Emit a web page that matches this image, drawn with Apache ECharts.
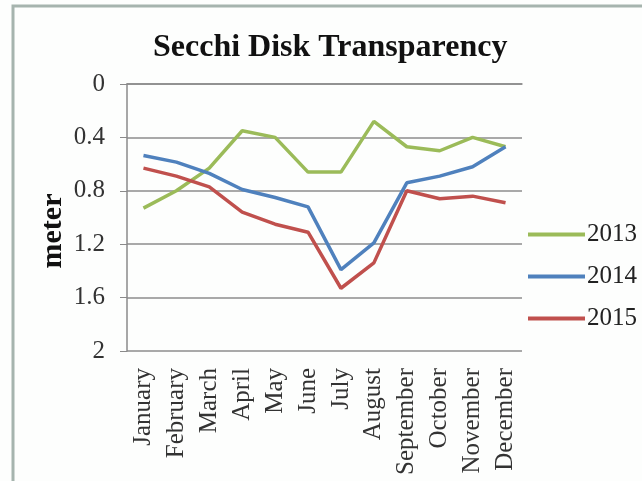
<!DOCTYPE html>
<html>
<head>
<meta charset="utf-8">
<script src="https://cdn.jsdelivr.net/npm/echarts@6/dist/echarts.min.js"></script>
<style>
html,body{margin:0;padding:0;background:#fdfefd;}
#c{width:642px;height:481px;}
</style>
</head>
<body>
<div id="c"></div>
<script>
var months = ['January','February','March','April','May','June','July','August','September','October','November','December'];
var yTicks = [0, 0.4, 0.8, 1.2, 1.6, 2];
var s2013 = [0.93, 0.80, 0.63, 0.35, 0.40, 0.66, 0.66, 0.28, 0.47, 0.50, 0.40, 0.47];
var s2014 = [0.535, 0.585, 0.67, 0.79, 0.85, 0.92, 1.39, 1.19, 0.74, 0.69, 0.62, 0.47];
var s2015 = [0.63, 0.69, 0.77, 0.96, 1.05, 1.11, 1.53, 1.34, 0.80, 0.86, 0.84, 0.89];
var seriesNames = ['2013','2014','2015'];
var colors = ['#9bbb59','#4f81bd','#c0504d'];

var serif = 'Liberation Serif';
var chart = echarts.init(document.getElementById('c'));
var data = [s2013, s2014, s2015];
chart.setOption({
  backgroundColor: '#fdfefd',
  animation: false,
  color: colors,
  title: {
    text: 'Secchi Disk Transparency',
    left: 153,
    top: 32,
    padding: 0,
    textStyle: { fontFamily: serif, fontWeight: 'bold', fontSize: 32, color: '#111' }
  },
  graphic: [
    { type: 'rect', shape: { x: 13, y: 6, width: 700, height: 520 },
      style: { fill: 'none', stroke: '#a6b4ae', lineWidth: 3 } },
    { type: 'text', x: 53, y: 231, rotation: Math.PI / 2,
      style: { text: 'meter', fontFamily: serif, fontWeight: 'bold', fontSize: 30,
               fill: '#111', align: 'center', verticalAlign: 'middle' } }
  ],
  legend: {
    orient: 'vertical',
    left: 528,
    top: 222,
    padding: 0,
    icon: 'rect',
    itemWidth: 57,
    itemHeight: 4,
    itemGap: 17,
    textStyle: { fontFamily: serif, fontSize: 25, color: '#222', padding: [0,0,0,-3] },
    data: seriesNames
  },
  grid: { left: 127, right: 120, top: 84, bottom: 130 },
  xAxis: {
    type: 'category',
    data: months,
    boundaryGap: true,
    axisLine: { lineStyle: { color: '#8a8a8a', width: 1.5 } },
    axisTick: { show: false },
    axisLabel: { rotate: 90, interval: 0, margin: 17, fontFamily: serif, fontSize: 25, color: '#333' }
  },
  yAxis: {
    type: 'value',
    inverse: true,
    min: yTicks[0],
    max: yTicks[yTicks.length - 1],
    interval: 0.4,
    axisLine: { show: true, lineStyle: { color: '#8a8a8a', width: 1.5 } },
    axisTick: { show: true, length: 7, lineStyle: { color: '#8a8a8a' } },
    splitLine: { lineStyle: { color: '#8c8c8c', width: 1.5 } },
    axisLabel: {
      margin: 22, fontFamily: serif, fontSize: 25, color: '#333',
      formatter: function (v) { return String(Math.round(v * 10) / 10); }
    }
  },
  series: seriesNames.map(function (n, i) {
    return {
      name: n, type: 'line', data: data[i], symbol: 'none',
      lineStyle: { width: 3.5, color: colors[i] },
      itemStyle: { color: colors[i] }
    };
  })
});
</script>
</body>
</html>
